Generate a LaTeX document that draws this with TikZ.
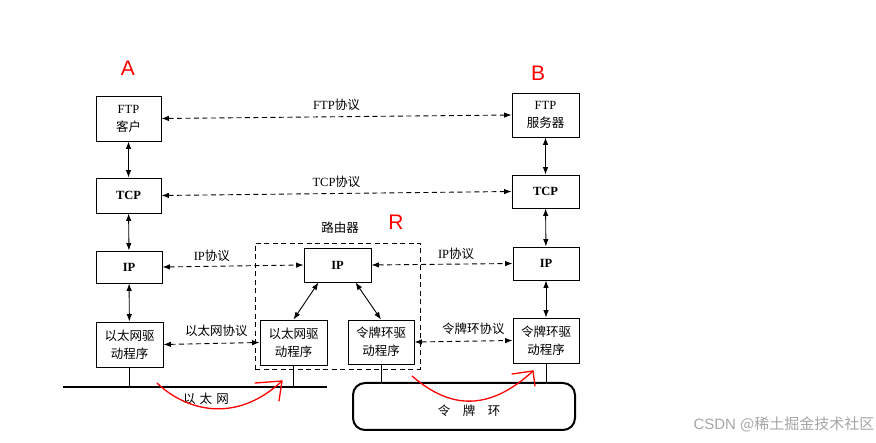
\documentclass[tikz,border=0pt]{standalone}
\usepackage{fontspec}
\setmainfont{Liberation Serif}
\newfontfamily\cjk{Noto Sans CJK SC}
\newfontfamily\lblsans{Liberation Sans}
\usetikzlibrary{arrows.meta,calc}
\begin{document}
\begin{tikzpicture}[x=1pt,y=-1pt,
  layer/.style={draw, line width=0.9pt, inner sep=0pt, align=center, font=\fontsize{12.5}{18}\selectfont},
  stackarrow/.style={line width=0.9pt, {Latex[length=7.5pt,width=5.5pt]}-{Latex[length=7.5pt,width=5.5pt]}},
  proto/.style={line width=0.9pt, dashed, dash pattern=on 5pt off 3.5pt, {Latex[length=7.5pt,width=5.5pt]}-{Latex[length=7.5pt,width=5.5pt]}},
  plabel/.style={font=\fontsize{12.5}{14}\selectfont, inner sep=1pt},
  redmark/.style={text=red, font=\lblsans\fontsize{21}{22}\selectfont},
  hand/.style={draw=red, line width=1.3pt, line cap=round, line join=round},
  stub/.style={line width=0.8pt}
]
\fill[white] (0,0) rectangle (876,443);
\useasboundingbox (0,0) rectangle (876,443);

% red markers
\node[redmark] (lblA) at (128,68) {A};
\node[redmark] (lblB) at (538,73) {B};
\node[redmark] (lblR) at (396,222) {R};

% host A
\node[layer, minimum width=65pt, minimum height=45pt] (ftpA) at (128.5,118.5) {FTP\\{\cjk 客户}};
\node[layer, minimum width=65pt, minimum height=35pt] (tcpA) at (128.5,195.5) {\textbf{TCP}};
\node[layer, minimum width=66pt, minimum height=32pt] (ipA) at (129,267) {\textbf{IP}};
\node[layer, minimum width=67pt, minimum height=45pt] (ethA) at (129.5,344.5) {\cjk 以太网驱\\\cjk 动程序};

% host B
\node[layer, minimum width=67pt, minimum height=44pt] (ftpB) at (545.5,115) {FTP\\{\cjk 服务器}};
\node[layer, minimum width=67pt, minimum height=33pt] (tcpB) at (545.5,191.5) {\textbf{TCP}};
\node[layer, minimum width=66pt, minimum height=33pt] (ipB) at (546,263.5) {\textbf{IP}};
\node[layer, minimum width=66pt, minimum height=45pt] (trB) at (546,340.5) {\cjk 令牌环驱\\\cjk 动程序};

% router
\node[draw, dashed, dash pattern=on 5pt off 3.5pt, line width=0.9pt, minimum width=165pt, minimum height=126pt, inner sep=0pt] (router) at (337.5,306) {};
\node[plabel] (routerlbl) at (340,228) {\cjk 路由器};
\node[layer, minimum width=67pt, minimum height=34pt] (ipR) at (337.5,265) {\textbf{IP}};
\node[layer, minimum width=67pt, minimum height=45pt] (ethR) at (293.5,342.5) {\cjk 以太网驱\\\cjk 动程序};
\node[layer, minimum width=66pt, minimum height=44pt] (trR) at (381,342) {\cjk 令牌环驱\\\cjk 动程序};

% networks
\coordinate (ethL) at (63,387);
\coordinate (ethRgt) at (327,387);
\draw[line width=2pt] (ethL) -- (ethRgt);
\node[plabel] (ethlbl) at (206,399) {\cjk 以\,\,太\,\,网};
\node[draw, line width=2pt, rounded corners=12pt, minimum width=222pt, minimum height=47pt, inner sep=0pt] (ring) at (464,406.5) {};
\node[plabel] (ringlbl) at (469,411) {\cjk 令\quad 牌\quad 环};

% stubs
\draw[stub] (ethA.south) -- (ethA.south |- ethL);
\draw[stub] (ethR.south) -- (ethR.south |- ethL);
\draw[stub] (trR.south) -- (trR.south |- ring.north);
\draw[stub] (trB.south) -- (trB.south |- ring.north);

% stack arrows
\draw[stackarrow] (ftpA) -- (tcpA);
\draw[stackarrow] (tcpA) -- (ipA);
\draw[stackarrow] (ipA) -- (ethA);
\draw[stackarrow] (ftpB) -- (tcpB);
\draw[stackarrow] (tcpB) -- (ipB);
\draw[stackarrow] (ipB) -- (trB);
\draw[stackarrow] ($(ipR.south)+(-19,0)$) -- (ethR.north);
\draw[stackarrow] ($(ipR.south)+(18,0)$) -- (trR.north);

% protocol arrows
\draw[proto] (ftpA.east) -- node[plabel, above=5pt] (ftpP) {FTP{\cjk 协议}} (ftpB.west);
\draw[proto] (tcpA.east) -- node[plabel, above=4pt] (tcpP) {TCP{\cjk 协议}} (tcpB.west);
\draw[proto] (ipA.east) -- node[plabel, above=3pt, pos=0.35] (ipP1) {IP{\cjk 协议}} (ipR.west);
\draw[proto] (ipR.east) -- node[plabel, above=3pt, pos=0.6] (ipP2) {IP{\cjk 协议}} (ipB.west);
\draw[proto] (ethA.east) -- node[plabel, above=5pt, pos=0.55] (ethP) {\cjk 以太网协议} (ethR.west);
\draw[proto] (trR.east) -- node[plabel, above=5pt, pos=0.6] (trP) {\cjk 令牌环协议} (trB.west);

% red hand-drawn arrows
\coordinate (h1s) at (157,383);
\coordinate (h1e) at (282,381);
\draw[hand] (h1s) .. controls (185,410) and (235,425) .. (h1e);
\draw[hand] (255,383) -- (h1e) -- (279,401);
\coordinate (h2s) at (412,376);
\coordinate (h2e) at (533,371);
\draw[hand] (h2s) .. controls (440,400) and (480,420) .. (h2e);
\draw[hand] (512,374) -- (h2e) -- (535,386);

% watermark
\node[text=black!35, font=\lblsans\fontsize{15}{16}\selectfont, anchor=west] (wm) at (690,424) {CSDN {\cjk @稀土掘金技术社区}};
\end{tikzpicture}
\end{document}
